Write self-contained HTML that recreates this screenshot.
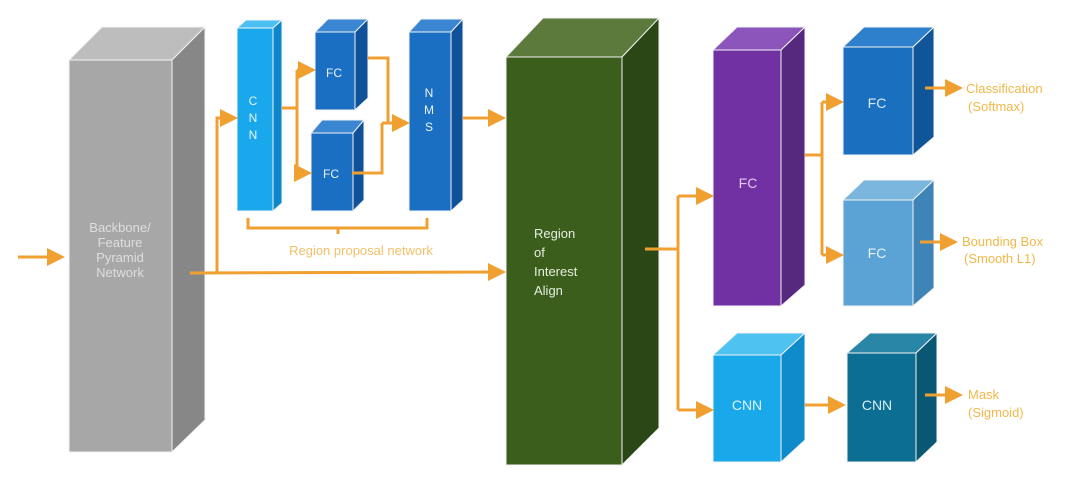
<!DOCTYPE html>
<html><head><meta charset="utf-8"><style>
html,body{margin:0;padding:0;background:#fff;}
svg{display:block;}
text{font-family:"Liberation Sans",sans-serif;}
</style></head><body>
<svg width="1080" height="481" viewBox="0 0 1080 481" xmlns="http://www.w3.org/2000/svg">
<defs>
<marker id="ah" markerWidth="6" markerHeight="6" refX="5" refY="3" orient="auto" markerUnits="strokeWidth">
<path d="M0,0 L6,3 L0,6 z" fill="#f0a030"/></marker>
</defs>
<g stroke="#f3f3f3" stroke-width="1">
<!-- backbone -->
<polygon points="69,60 102,27 205,27 172,60" fill="#bdbdbd"/>
<polygon points="172,60 205,27 205,420 172,452" fill="#878787"/>
<rect x="69" y="60" width="103" height="392" fill="#a7a7a7"/>
<!-- CNN rpn -->
<polygon points="237,28 246,20 282,20 273,28" fill="#4cc0f2"/>
<polygon points="273,28 282,20 282,203 273,211" fill="#0d87c9"/>
<rect x="237" y="28" width="36" height="183" fill="#1aa8ec"/>
<!-- FC top -->
<polygon points="315,32 328,19 368,19 355,32" fill="#3a86d2"/>
<polygon points="355,32 368,19 368,98 355,110" fill="#10529a"/>
<rect x="315" y="32" width="40" height="78" fill="#1b6fc2"/>
<!-- FC bottom -->
<polygon points="311,133 322,120 364,120 353,133" fill="#3a86d2"/>
<polygon points="353,133 364,120 364,200 353,211" fill="#10529a"/>
<rect x="311" y="133" width="42" height="78" fill="#1b6fc2"/>
<!-- NMS -->
<polygon points="409,32 421,19 463,19 451,32" fill="#3a86d2"/>
<polygon points="451,32 463,19 463,200 451,211" fill="#10529a"/>
<rect x="409" y="32" width="42" height="179" fill="#1b6fc2"/>
<!-- green -->
<polygon points="506,57 543,18 659,18 622,57" fill="#5b7a3b"/>
<polygon points="622,57 659,18 659,428 622,465" fill="#2c4716"/>
<rect x="506" y="57" width="116" height="408" fill="#3b5e1d"/>
<!-- purple -->
<polygon points="713,50 737,27 805,27 781,50" fill="#8b55bb"/>
<polygon points="781,50 805,27 805,285 781,306" fill="#56287e"/>
<rect x="713" y="50" width="68" height="256" fill="#7131a2"/>
<!-- FC blue -->
<polygon points="843,47 864,27 934,27 913,47" fill="#2e80cc"/>
<polygon points="913,47 934,27 934,137 913,155" fill="#0f5598"/>
<rect x="843" y="47" width="70" height="108" fill="#1b6fbf"/>
<!-- FC light -->
<polygon points="843,200 864,180 934,180 913,200" fill="#7ab6de"/>
<polygon points="913,200 934,180 934,288 913,306" fill="#3f84b6"/>
<rect x="843" y="200" width="70" height="106" fill="#5ba3d4"/>
<!-- CNN light -->
<polygon points="713,355 737,333 805,333 781,355" fill="#4ec2f0"/>
<polygon points="781,355 805,333 805,440 781,462" fill="#0e8bcb"/>
<rect x="713" y="355" width="68" height="107" fill="#19a9ea"/>
<!-- CNN teal -->
<polygon points="847,353 870,333 937,333 916,353" fill="#2a86a6"/>
<polygon points="916,353 937,333 937,442 916,462" fill="#0a5774"/>
<rect x="847" y="353" width="69" height="109" fill="#0c6e92"/>
</g>
<g fill="none" stroke="#f0a030" stroke-width="3">
<line x1="18" y1="257" x2="62" y2="257" marker-end="url(#ah)"/>
<polyline points="190,273 503,272" marker-end="url(#ah)"/>
<polyline points="217,273 217,118 235,118" marker-end="url(#ah)"/>
<polyline points="282,108 297,108"/>
<polyline points="297,70 297,173"/>
<line x1="297" y1="70" x2="313" y2="70" marker-end="url(#ah)"/>
<line x1="297" y1="173" x2="309" y2="173" marker-end="url(#ah)"/>
<polyline points="368,58 388,58 388,123"/>
<polyline points="352,173 382,173 382,123"/>
<line x1="382" y1="123" x2="407" y2="123" marker-end="url(#ah)"/>
<line x1="463" y1="118" x2="503" y2="118" marker-end="url(#ah)"/>
<polyline points="248,218 248,228 427,228 427,218"/>
<line x1="338" y1="228" x2="338" y2="234"/>
<line x1="645" y1="249" x2="678" y2="249"/>
<polyline points="678,196 678,410"/>
<line x1="678" y1="196" x2="711" y2="196" marker-end="url(#ah)"/>
<line x1="678" y1="410" x2="711" y2="410" marker-end="url(#ah)"/>
<line x1="805" y1="155" x2="822" y2="155"/>
<polyline points="822,102 822,255"/>
<line x1="822" y1="102" x2="841" y2="102" marker-end="url(#ah)"/>
<line x1="822" y1="255" x2="841" y2="255" marker-end="url(#ah)"/>
<line x1="925" y1="88" x2="960" y2="88" marker-end="url(#ah)"/>
<line x1="920" y1="242" x2="955" y2="242" marker-end="url(#ah)"/>
<line x1="805" y1="405" x2="843" y2="405" marker-end="url(#ah)"/>
<line x1="925" y1="395" x2="960" y2="395" marker-end="url(#ah)"/>
</g>
<g font-size="13" fill="#dedede" text-anchor="middle">
<text x="120" y="232">Backbone/</text>
<text x="120" y="247">Feature</text>
<text x="120" y="262">Pyramid</text>
<text x="120" y="277">Network</text>
</g>
<g font-size="12" fill="#e8f4fc" text-anchor="middle">
<text x="253" y="105">C</text><text x="253" y="122">N</text><text x="253" y="139">N</text>
<text x="429" y="97">N</text><text x="429" y="114">M</text><text x="429" y="131">S</text>
<text x="334" y="77">FC</text><text x="331" y="178">FC</text>
</g>
<g font-size="13" fill="#e6efe0">
<text x="534" y="238">Region</text>
<text x="534" y="257">of</text>
<text x="534" y="276">Interest</text>
<text x="534" y="295">Align</text>
</g>
<g font-size="14" text-anchor="middle">
<text x="748" y="188" fill="#e2c8f4">FC</text>
<text x="877" y="108" fill="#d8e8f8">FC</text>
<text x="877" y="258" fill="#e6f2fa">FC</text>
<text x="747" y="410" fill="#dff3fd">CNN</text>
<text x="877" y="410" fill="#d8eef4">CNN</text>
</g>
<g font-size="13" fill="#f0b848">
<text x="361" y="255" text-anchor="middle" fill="#f2c068">Region proposal network</text>
<text x="966" y="93">Classification</text>
<text x="968" y="111">(Softmax)</text>
<text x="962" y="246">Bounding Box</text>
<text x="964" y="263">(Smooth L1)</text>
<text x="968" y="399">Mask</text>
<text x="968" y="417">(Sigmoid)</text>
</g>
</svg>
</body></html>
